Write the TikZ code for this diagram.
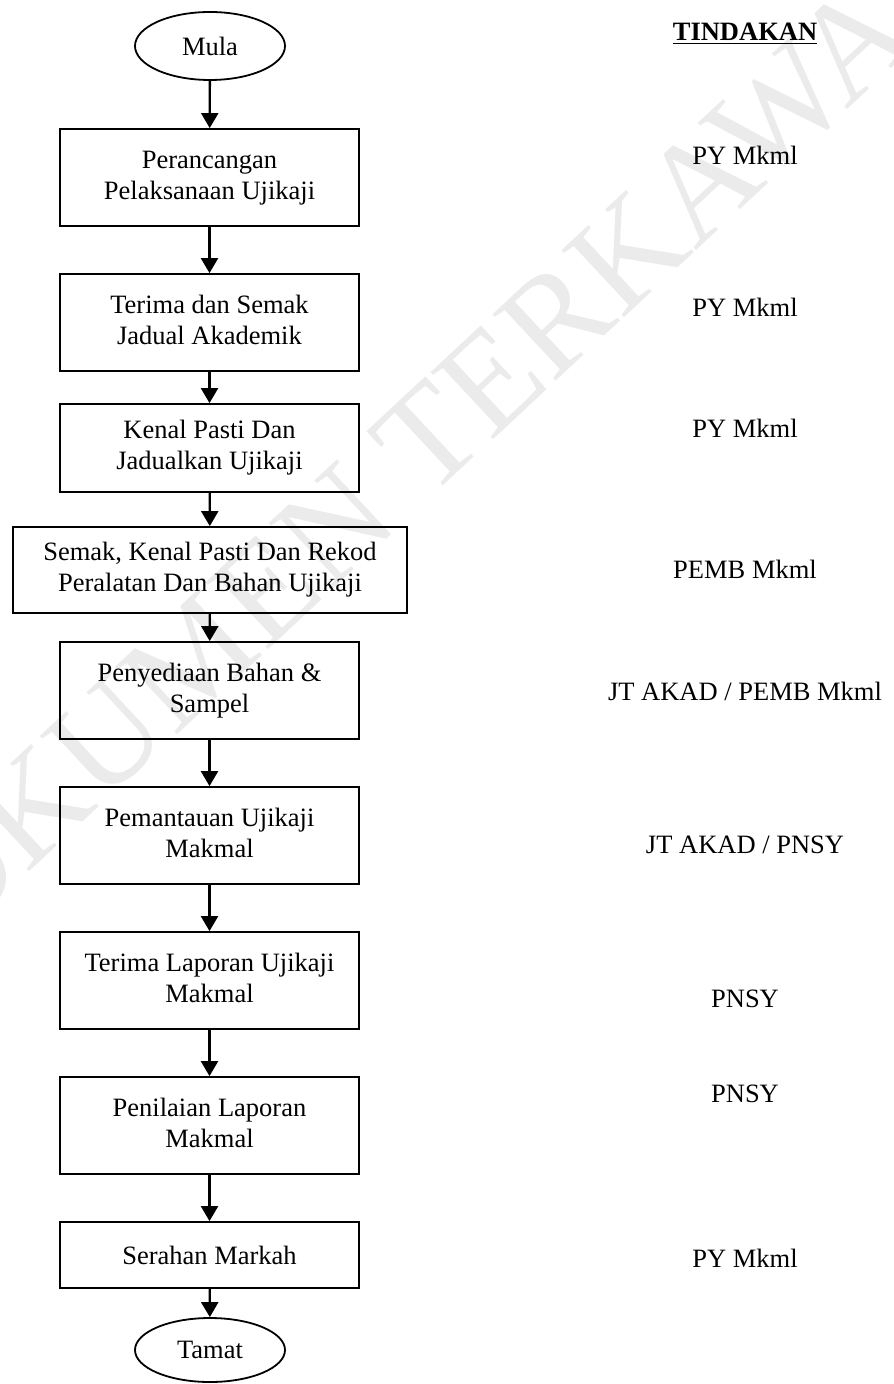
\documentclass[tikz,border=0pt]{standalone}
\usepackage{fontspec}
\setmainfont{Liberation Serif}
\usetikzlibrary{shapes.geometric,arrows.meta}
\newcommand{\twoline}[3]{\raisebox{#1}{\begin{tabular}{@{}c@{}}#2\\#3\end{tabular}}}
\begin{document}
\begin{tikzpicture}[x=0.5pt,y=-0.5pt,
  every node/.style={font=\fontsize{13.25pt}{15.5pt}\selectfont},
  stepbox/.style={draw,line width=0.9pt,minimum width=149.5pt,minimum height=48.5pt,align=center,inner sep=0pt},
  termbox/.style={draw,ellipse,line width=0.9pt,minimum width=75pt,minimum height=34pt,inner sep=0pt},
  actlabel/.style={anchor=base,inner sep=0pt},
  flow/.style={line width=1.15pt,-{Triangle[length=7.5pt,width=8.5pt]}},
  wmark/.style={text=black!8,font=\fontsize{70pt}{70pt}\selectfont,rotate=43,inner sep=0pt}
]
\useasboundingbox (0,0) rectangle (893,1384);
% watermark
\node[wmark] (wm) at (400,465) {DOKUMEN TERKAWAL};
% flow
\node[termbox] (mula) at (210,46) {Mula};
\node[stepbox] (b1) at (209.5,177.5) {\twoline{0.5pt}{Perancangan}{Pelaksanaan Ujikaji}};
\node[stepbox] (b2) at (209.5,322.5) {\twoline{2.5pt}{Terima dan Semak}{Jadual Akademik}};
\node[stepbox,minimum height=44pt] (b3) at (209.5,448) {\twoline{0pt}{Kenal Pasti Dan}{Jadualkan Ujikaji}};
\node[stepbox,minimum width=197pt,minimum height=43pt] (b4) at (210,570) {\twoline{0pt}{Semak, Kenal Pasti Dan Rekod}{Peralatan Dan Bahan Ujikaji}};
\node[stepbox] (b5) at (209.5,690.5) {\twoline{0.5pt}{Penyediaan Bahan \&}{Sampel}};
\node[stepbox] (b6) at (209.5,835.5) {\twoline{5pt}{Pemantauan Ujikaji}{Makmal}};
\node[stepbox] (b7) at (209.5,980.5) {\twoline{3.5pt}{Terima Laporan Ujikaji}{Makmal}};
\node[stepbox] (b8) at (209.5,1125.5) {\twoline{4pt}{Penilaian Laporan}{Makmal}};
\node[stepbox,minimum height=33pt] (b9) at (209.5,1255) {Serahan Markah};
\node[termbox,minimum height=32pt] (tamat) at (210,1350) {Tamat};
\draw[flow] (mula) -- (b1);
\draw[flow] (b1) -- (b2);
\draw[flow] (b2) -- (b3);
\draw[flow] (b3) -- (b4);
\draw[flow] (b4) -- (b5);
\draw[flow] (b5) -- (b6);
\draw[flow] (b6) -- (b7);
\draw[flow] (b7) -- (b8);
\draw[flow] (b8) -- (b9);
\draw[flow] (b9) -- (tamat);
% actions
\node[actlabel] (h) at (745,41) {\textbf{\underline{TINDAKAN}}};
\node[actlabel] (a1) at (745,165) {PY Mkml};
\node[actlabel] (a2) at (745,317) {PY Mkml};
\node[actlabel] (a3) at (745,438) {PY Mkml};
\node[actlabel] (a4) at (745,578) {PEMB Mkml};
\node[actlabel] (a5) at (745,700) {JT AKAD / PEMB Mkml};
\node[actlabel] (a6) at (745,853) {JT AKAD / PNSY};
\node[actlabel] (a7) at (745,1007) {PNSY};
\node[actlabel] (a8) at (745,1102) {PNSY};
\node[actlabel] (a9) at (745,1267) {PY Mkml};
\end{tikzpicture}
\end{document}
